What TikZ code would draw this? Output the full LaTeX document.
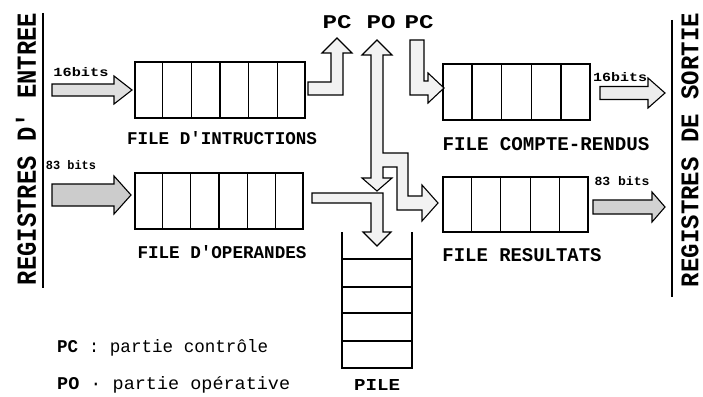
\documentclass[tikz,border=0pt]{standalone}
\usepackage{fontspec}
\usepackage{graphicx}
\usetikzlibrary{calc}
\newfontfamily\tw{Liberation Mono}
\newcommand{\fitbox}[3]{\resizebox{#1pt}{#2pt}{\tw #3}}
\newcommand{\fitboxb}[3]{\resizebox{#1pt}{#2pt}{\tw\bfseries #3}}
% horizontal block arrow: [style]{x start}{x tip}{y centre}{shaft half}{head half}{head length}
\newcommand{\harrow}[7][]{\draw[blk,#1] (#2,#4-#5) -- (#3-#7,#4-#5) -- (#3-#7,#4-#6) -- (#3,#4) -- (#3-#7,#4+#6) -- (#3-#7,#4+#5) -- (#2,#4+#5) -- cycle;}
\begin{document}
\begin{tikzpicture}[x=1pt,y=-1pt,
  queue/.style={draw, line width=1.2pt, minimum height=56pt, inner sep=0pt},
  lbl/.style={inner sep=0pt},
  blk/.style={draw, line width=1.1pt, line join=miter, fill=gray!10},
  divider/.style={line width=1.1pt}]
\useasboundingbox (0,0) rectangle (703,396);
\fill[white] (0,0) rectangle (703,396);

% side titles
\node[lbl, rotate=90] (rin) at (26,149) {\fitboxb{272}{20}{REGISTRES D' ENTREE}};
\node[lbl, rotate=90] (rout) at (690,150) {\fitboxb{274}{17}{REGISTRES DE SORTIE}};
\draw[line width=1.6pt] (43,13) -- (43,288);
\draw[line width=1.6pt] (672,20) -- (672,297);

% queues
\node[queue, minimum width=170pt] (fi) at (220,90) {};
\node[queue, minimum width=168pt] (fo) at (219,201) {};
\node[queue, minimum width=147pt] (fc) at (516.5,92) {};
\node[queue, minimum width=145pt, minimum height=55pt] (fr) at (515.5,204.5) {};
\foreach \i in {1,...,5} {
  \draw[divider] ($(fi.north west)!\i/6!(fi.north east)$) -- ($(fi.south west)!\i/6!(fi.south east)$);
  \draw[divider] ($(fo.north west)!\i/6!(fo.north east)$) -- ($(fo.south west)!\i/6!(fo.south east)$);
}
\foreach \i in {1,...,4} {
  \draw[divider] ($(fc.north west)!\i/5!(fc.north east)$) -- ($(fc.south west)!\i/5!(fc.south east)$);
  \draw[divider] ($(fr.north west)!\i/5!(fr.north east)$) -- ($(fr.south west)!\i/5!(fr.south east)$);
}

% queue labels
\node[lbl] (lfi) at (222,138) {\fitboxb{190}{13}{FILE D'INTRUCTIONS}};
\node[lbl] (lfo) at (222,252) {\fitboxb{169}{13}{FILE D'OPERANDES}};
\node[lbl] (lfc) at (546,144) {\fitboxb{207}{13}{FILE COMPTE-RENDUS}};
\node[lbl] (lfr) at (522,255) {\fitboxb{159}{13}{FILE RESULTATS}};

% pile
\node[minimum width=70pt, minimum height=136pt, inner sep=0pt] (pile) at (377,300) {};
\draw[line width=1.1pt] (342,232) -- (342,368) -- (412,368) -- (412,232);
\foreach \yy in {259,287,313,341} \draw[line width=1.1pt] (342,\yy) -- (412,\yy);
\node[lbl] (lpile) at (377,385) {\fitboxb{46}{11}{PILE}};

% input / output arrows
\harrow[fill=gray!25]{52}{132}{90}{6}{14}{18}
\harrow[fill=gray!40]{52}{131}{195}{11}{19}{17}
\harrow[fill=gray!15]{600}{665}{93}{6.5}{15}{17}
\harrow[fill=gray!35]{593}{665}{207}{7}{15}{13}
\node[lbl] (b1) at (81,72) {\fitboxb{55}{9}{16bits}};
\node[lbl] (b2) at (71,165) {\fitboxb{50}{9}{83 bits}};
\node[lbl] (b3) at (620,77) {\fitboxb{54}{9}{16bits}};
\node[lbl] (b4) at (622,181) {\fitboxb{55}{9}{83 bits}};

% PC / PO labels
\node[lbl] (pc1) at (337,22) {\fitboxb{29}{13}{PC}};
\node[lbl] (po) at (381,22) {\fitboxb{29}{13}{PO}};
\node[lbl] (pc2) at (419,22) {\fitboxb{29}{13}{PC}};

% central arrows
\draw[blk] (308,82) -- (331,82) -- (331,53) -- (322,53) -- (337,38) -- (352,53)
  -- (343,53) -- (343,95) -- (308,95) -- cycle;
\draw[blk] (410,40) -- (424,40) -- (424,81) -- (428,81) -- (428,73) -- (444,88)
  -- (428,103) -- (428,95) -- (410,95) -- cycle;
\draw[blk] (312,193) -- (383,193) -- (383,232) -- (391,232) -- (377,246)
  -- (363,232) -- (371,232) -- (371,203) -- (312,203) -- cycle;
\draw[blk] (377,40) -- (392,55) -- (383,55) -- (383,153) -- (408,153) -- (408,196)
  -- (422,196) -- (422,185) -- (438,203) -- (422,221) -- (422,210) -- (397,210)
  -- (397,167) -- (383,167) -- (383,178) -- (392,178) -- (377,191) -- (362,178)
  -- (371,178) -- (371,55) -- (362,55) -- cycle;

% legend
\node[lbl, anchor=base west] (leg1) at (57,352) {\resizebox{211pt}{13pt}{\tw\textbf{PC} : partie contrôle}};
\node[lbl, anchor=base west] (leg2) at (57,389) {\resizebox{233pt}{13pt}{\tw\textbf{PO} · partie opérative}};
\end{tikzpicture}
\end{document}
